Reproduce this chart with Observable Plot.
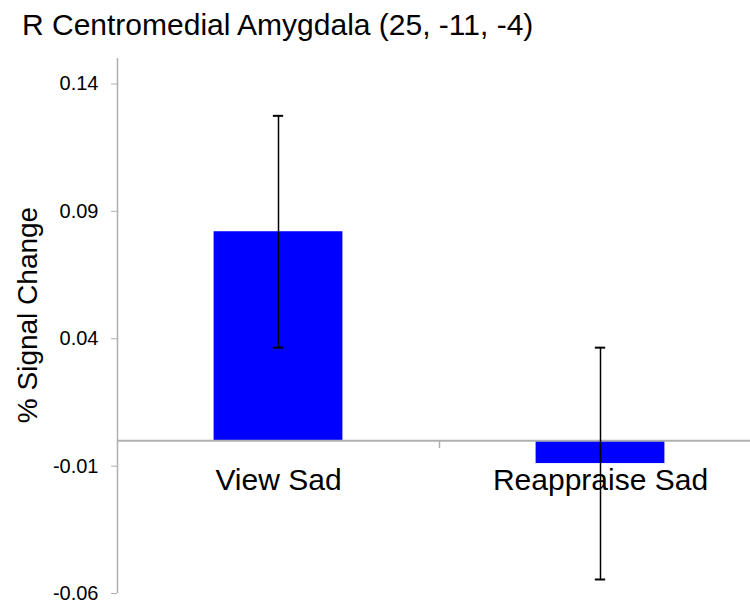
<!DOCTYPE html>
<html>
<head>
<meta charset="utf-8">
<script src="https://cdn.jsdelivr.net/npm/d3@7"></script>
<script src="https://cdn.jsdelivr.net/npm/@observablehq/plot@0.6"></script>
<style>
  html, body { margin: 0; padding: 0; background: #ffffff; }
  body { width: 750px; height: 610px; overflow: hidden; font-family: "Liberation Sans", Arial, sans-serif; }
  #title { height: 50px; line-height: 50px; font-size: 30px; color: #000; padding-left: 22px; white-space: nowrap; }
</style>
</head>
<body>
<div id="title"></div>
<div id="chart"></div>
<script>
const titleText = "R Centromedial Amygdala (25, -11, -4)";
const yLabel = "% Signal Change";
const categories = ["View Sad", "Reappraise Sad"];
const means = [0.082, -0.009];
const errors = [0.0455, 0.0455];
const yTicks = [-0.06, -0.01, 0.04, 0.09, 0.14];
const yDomain = [-0.06, 0.15];

document.getElementById("title").textContent = titleText;

const data = categories.map((c, i) => ({
  category: c,
  i: i,
  mean: means[i],
  lo: means[i] - errors[i],
  hi: means[i] + errors[i]
}));

const halfBar = 0.2;
const halfCap = 0.016;
const gray = "#b0b0b0";

const chart = Plot.plot({
  width: 750,
  height: 560,
  marginTop: 8,
  marginBottom: 17,
  marginLeft: 117,
  marginRight: 0,
  style: { fontFamily: "'Liberation Sans', Arial, sans-serif", background: "white", color: "black" },
  x: { domain: [-0.5, categories.length - 0.5], range: [117, 761], axis: null },
  y: { domain: yDomain, label: null },
  marks: [
    Plot.rectY(data, {
      x1: d => d.i - halfBar,
      x2: d => d.i + halfBar,
      y1: 0,
      y2: "mean",
      fill: "#0000ff"
    }),
    Plot.ruleY([0], { stroke: gray, strokeWidth: 2 }),
    Plot.ruleX([-0.5], { y1: yDomain[0], y2: yDomain[1], stroke: gray, strokeWidth: 1.5 }),
    Plot.ruleX(d3.range(1, categories.length).map(k => k - 0.5), { y1: 0, y2: -0.0031, stroke: gray, strokeWidth: 1.5 }),
    Plot.axisY({
      ticks: yTicks,
      tickSize: 6,
      tickFormat: () => "",
      stroke: gray,
      label: null
    }),
    Plot.text(yTicks, {
      y: d => d,
      text: d => d.toFixed(2),
      frameAnchor: "left",
      textAnchor: "end",
      lineAnchor: "middle",
      dx: -19,
      fontSize: 20,
      fill: "black"
    }),
    Plot.ruleX(data, { x: "i", y1: "lo", y2: "hi", stroke: "black", strokeWidth: 1.5 }),
    Plot.ruleY(data, { y: "hi", x1: d => d.i - halfCap, x2: d => d.i + halfCap, stroke: "black", strokeWidth: 2 }),
    Plot.ruleY(data, { y: "lo", x1: d => d.i - halfCap, x2: d => d.i + halfCap, stroke: "black", strokeWidth: 2 }),
    Plot.text(data, {
      x: "i",
      y: 0,
      text: "category",
      lineAnchor: "top",
      dy: 28,
      fontSize: 30,
      fill: "black"
    }),
    Plot.text([yLabel], {
      frameAnchor: "left",
      textAnchor: "middle",
      lineAnchor: "middle",
      rotate: -90,
      dx: -89,
      dy: -11,
      fontSize: 28,
      fill: "black"
    })
  ]
});

document.getElementById("chart").appendChild(chart);
</script>
</body>
</html>
